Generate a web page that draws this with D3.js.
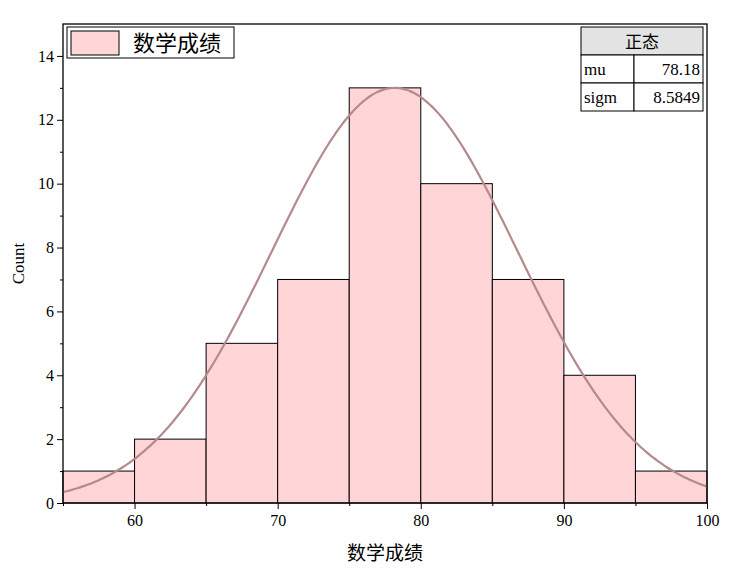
<!DOCTYPE html><html><head><meta charset="utf-8"><script src="https://cdn.jsdelivr.net/npm/d3@7"></script>
<style>body{margin:0;background:#fff}text{font-family:"Liberation Serif","Noto Sans CJK SC",serif}</style></head><body><svg id="c" width="733" height="576"></svg><script>
const binStarts=[55,60,65,70,75,80,85,90,95];
const counts=[1,2,5,7,13,10,7,4,1];
const xTicks=[60,70,80,90,100];
const yTicks=[0,2,4,6,8,10,12,14];
const mu=78.18, sigma=8.5849, peak=13;
const tableRows=[["mu","78.18"],["sigm","8.5849"]];
const svg=d3.select("#c");
const L=63,R=707,T=24,B=503;
const x=d3.scaleLinear().domain([55,100]).range([L,R]);
const y=d3.scaleLinear().domain([0,15]).range([B,T]);
svg.selectAll("rect.bar").data(counts).join("rect").attr("class","bar")
 .attr("x",(d,i)=>x(binStarts[i])).attr("width",(d,i)=>x(binStarts[i]+5)-x(binStarts[i]))
 .attr("y",d=>y(d)).attr("height",d=>B-y(d)).attr("fill","#ffd5d7").attr("stroke","#000").attr("stroke-width",1);
const pts=d3.range(55,100.01,0.25).map(v=>[v,peak*Math.exp(-((v-mu)**2)/(2*sigma*sigma))]);
svg.append("path").attr("d",d3.line().x(d=>x(d[0])).y(d=>y(d[1])).curve(d3.curveBasis)(pts))
 .attr("fill","none").attr("stroke","#b48a8c").attr("stroke-width",2.2);
svg.append("rect").attr("x",L).attr("y",T).attr("width",R-L).attr("height",B-T).attr("fill","none").attr("stroke","#000").attr("stroke-width",1.3);
const xa=svg.append("g").attr("transform",`translate(0,${B})`).call(d3.axisBottom(x).tickValues(xTicks).tickSize(6).tickSizeOuter(0));
const ya=svg.append("g").attr("transform",`translate(${L},0)`).call(d3.axisLeft(y).tickValues(yTicks).tickSize(6).tickSizeOuter(0));
svg.append("g").attr("transform",`translate(${L},0)`).call(d3.axisLeft(y).tickValues(d3.range(1,15,2)).tickSize(3).tickFormat("").tickSizeOuter(0)).select(".domain").remove();
svg.append("g").attr("transform",`translate(0,${B})`).call(d3.axisBottom(x).tickValues(d3.range(55,100,10)).tickSize(3).tickFormat("").tickSizeOuter(0)).select(".domain").remove();
[xa,ya].forEach(a=>{a.selectAll("text").attr("font-size",16).attr("fill","#000");a.select(".domain").remove();});
xa.selectAll("text").attr("dy","0.9em");
svg.append("text").attr("x",x(77.5)).attr("y",560).attr("text-anchor","middle").attr("font-size",19).text("数学成绩");
svg.append("text").attr("transform",`translate(24,${(T+B)/2}) rotate(-90)`).attr("text-anchor","middle").attr("font-size",17).text("Count");
// legend
svg.append("rect").attr("x",67).attr("y",27).attr("width",167).attr("height",31).attr("fill","#fff").attr("stroke","#000");
svg.append("rect").attr("x",71).attr("y",31).attr("width",48).attr("height",24).attr("fill","#ffd5d7").attr("stroke","#000");
svg.append("text").attr("x",133).attr("y",51).attr("font-size",22).text("数学成绩");
// table
const tx=581,tw=122,c1=53,rh=28;
svg.append("rect").attr("x",tx).attr("y",27).attr("width",tw).attr("height",rh).attr("fill","#e3e3e3").attr("stroke","#000");
svg.append("text").attr("x",tx+tw/2).attr("y",48).attr("text-anchor","middle").attr("font-size",17).text("正态");
tableRows.forEach((r,i)=>{const yy=27+rh*(i+1);
 svg.append("rect").attr("x",tx).attr("y",yy).attr("width",c1).attr("height",rh).attr("fill","#fff").attr("stroke","#000");
 svg.append("rect").attr("x",tx+c1).attr("y",yy).attr("width",tw-c1).attr("height",rh).attr("fill","#fff").attr("stroke","#000");
 svg.append("text").attr("x",tx+3).attr("y",yy+20).attr("font-size",17).text(r[0]);
 svg.append("text").attr("x",tx+tw-3).attr("y",yy+20).attr("text-anchor","end").attr("font-size",17).text(r[1]);});
</script></body></html>
